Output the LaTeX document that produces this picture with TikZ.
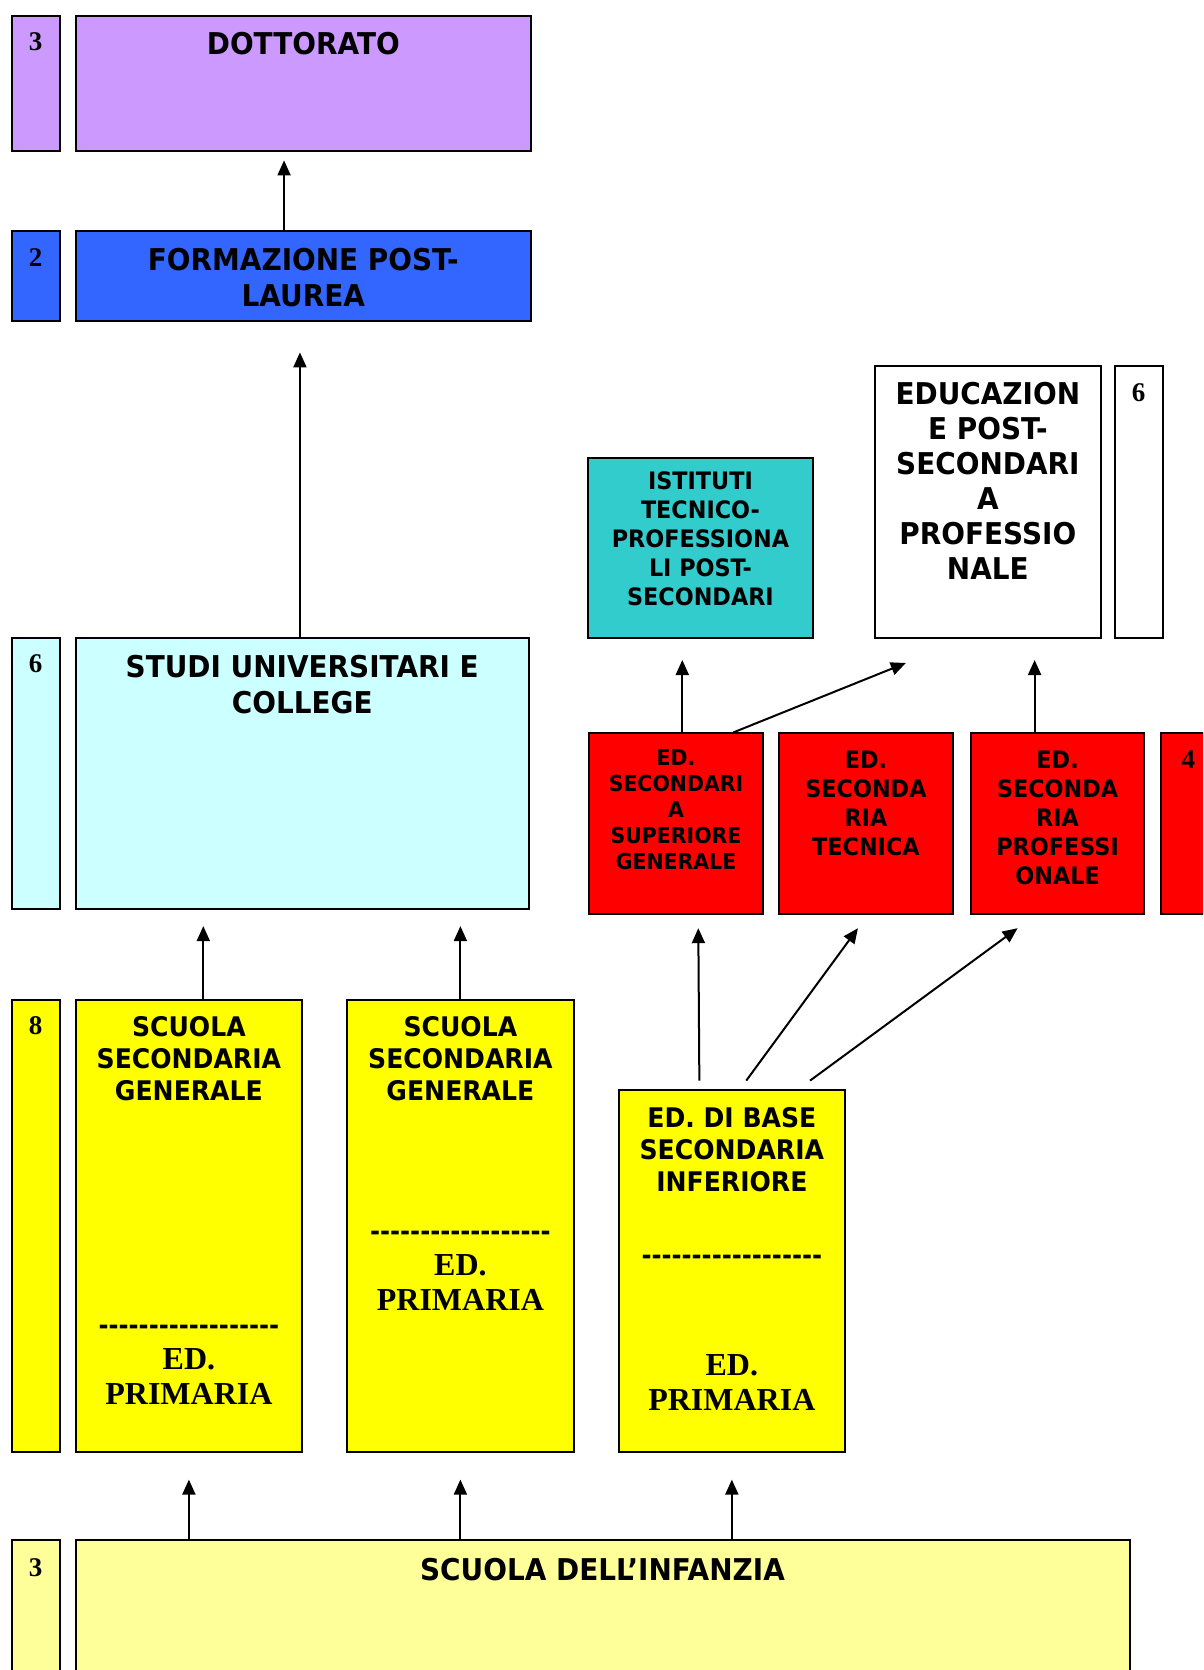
\documentclass[tikz,border=0pt]{standalone}
\usepackage{fontspec}
\usepackage{xcolor}
\usepackage{tikz}
\usetikzlibrary{arrows.meta, positioning, calc}
\newfontfamily\tahomafont{DejaVu Sans}[FakeStretch=0.93]
\newfontfamily\timesfont{Liberation Serif}
\definecolor{phdviolet}{RGB}{204, 153, 255}
\definecolor{postblue}{RGB}{51, 102, 255}
\definecolor{unicyan}{RGB}{204, 255, 255}
\definecolor{techteal}{RGB}{51, 204, 204}
\definecolor{secred}{RGB}{255, 0, 0}
\definecolor{schoolyellow}{RGB}{255, 255, 0}
\definecolor{kinderyellow}{RGB}{255, 255, 153}
\newcommand{\dashrow}{\foreach \k in {1,...,18}{\mbox{-}}}

\begin{document}
\begin{tikzpicture}[x=1pt, y=-1pt,
    box/.style={rectangle, draw=black, line width=2pt, anchor=north west, inner sep=0pt},
    numbox/.style={box, minimum width=48pt},
    num/.style={anchor=north, inner sep=0pt, font=\timesfont\bfseries\fontsize{27}{32}\selectfont},
    txt/.style={anchor=north, inner sep=0pt, align=center},
    bigtxt/.style={txt, font=\tahomafont\bfseries\fontsize{30}{36}\selectfont},
    edutxt/.style={txt, font=\tahomafont\bfseries\fontsize{30}{35}\selectfont},
    midtxt/.style={txt, font=\tahomafont\bfseries\fontsize{24}{29}\selectfont},
    smalltxt/.style={txt, font=\tahomafont\bfseries\fontsize{22}{26}\selectfont},
    schooltxt/.style={txt, font=\tahomafont\bfseries\fontsize{27}{32}\selectfont},
    primtxt/.style={txt, font=\timesfont\bfseries\fontsize{32}{35}\selectfont},
    dashtxt/.style={inner sep=0pt, font=\tahomafont\bfseries\fontsize{26}{32}\selectfont},
    line/.style={draw=black, line width=2pt, -{Triangle[length=15pt,width=13pt]}}]
    \clip (0,0) rectangle (1203,1670);

    % doctorate and post-graduate
    \node [numbox, fill=phdviolet, minimum height=135pt] (dottnum) at (10.6,14.9) {};
    \node [box, fill=phdviolet, minimum width=455.7pt, minimum height=135pt] (dott) at (74.5,14.9) {};
    \node [num] (dottnumtext) at ([yshift=-18pt]dottnum.north) {3};
    \node [bigtxt] (dotttext) at ([yshift=-17pt]dott.north) {DOTTORATO};

    \node [numbox, fill=postblue, minimum height=90.4pt] (formnum) at (10.6,230) {};
    \node [box, fill=postblue, minimum width=455.7pt, minimum height=90.4pt] (form) at (74.5,230) {};
    \node [num] (formnumtext) at ([yshift=-18pt]formnum.north) {2};
    \node [bigtxt] (formtext) at ([yshift=-18pt]form.north) {FORMAZIONE POST-\\LAUREA};

    % tertiary level
    \node [numbox, fill=unicyan, minimum height=271.5pt] (studinum) at (10.6,636.6) {};
    \node [box, fill=unicyan, minimum width=453.5pt, minimum height=271.5pt] (studi) at (74.5,636.6) {};
    \node [num] (studinumtext) at ([yshift=-18pt]studinum.north) {6};
    \node [bigtxt] (studitext) at ([yshift=-18pt]studi.north) {STUDI UNIVERSITARI E\\COLLEGE};

    \node [box, fill=techteal, minimum width=225.7pt, minimum height=179.9pt] (ist) at (586.6,456.7) {};
    \node [midtxt] (isttext) at ([yshift=-15pt]ist.north) {ISTITUTI\\TECNICO-\\PROFESSIONA\\LI POST-\\SECONDARI};

    \node [box, fill=white, minimum width=225.7pt, minimum height=271.4pt] (edu) at (874,365.2) {};
    \node [numbox, fill=white, minimum height=271.4pt] (edunum) at (1113.6,365.2) {};
    \node [edutxt] (edutext) at ([yshift=-17pt]edu.north) {EDUCAZION\\E POST-\\SECONDARI\\A\\PROFESSIO\\NALE};
    \node [num] (edunumtext) at ([yshift=-18pt]edunum.north) {6};

    % upper secondary
    \node [box, fill=secred, minimum width=174.6pt, minimum height=181pt] (sup) at (587.7,732.4) {};
    \node [box, fill=secred, minimum width=173.5pt, minimum height=181pt] (tec) at (778.2,732.4) {};
    \node [box, fill=secred, minimum width=173.6pt, minimum height=181pt] (pro) at (969.8,732.4) {};
    \node [numbox, fill=secred, minimum height=181pt] (rednum) at (1160.4,732.4) {};
    \node [smalltxt] (suptext) at ([yshift=-17pt]sup.north) {ED.\\SECONDARI\\A\\SUPERIORE\\GENERALE};
    \node [midtxt] (tectext) at ([yshift=-18pt]tec.north) {ED.\\SECONDA\\RIA\\TECNICA};
    \node [midtxt] (protext) at ([yshift=-18pt]pro.north) {ED.\\SECONDA\\RIA\\PROFESSI\\ONALE};
    \node [num] (rednumtext) at ([xshift=3pt,yshift=-18pt]rednum.north) {4};

    % lower secondary and primary
    \node [numbox, fill=schoolyellow, minimum height=452.4pt] (yelnum) at (10.6,998.6) {};
    \node [box, fill=schoolyellow, minimum width=226.8pt, minimum height=452.4pt] (ssga) at (74.5,998.6) {};
    \node [box, fill=schoolyellow, minimum width=226.8pt, minimum height=452.4pt] (ssgb) at (346,998.6) {};
    \node [box, fill=schoolyellow, minimum width=226.7pt, minimum height=362pt] (base) at (617.5,1089) {};
    \node [num] (yelnumtext) at ([yshift=-18pt]yelnum.north) {8};

    \node [schooltxt] (ssgatext) at ([yshift=-18pt]ssga.north) {SCUOLA\\SECONDARIA\\GENERALE};
    \node [dashtxt] (ssgadash) at ([yshift=-331pt]ssga.north) {\dashrow};
    \node [primtxt] (ssgaprim) at ([yshift=-349.4pt]ssga.north) {ED.\\PRIMARIA};

    \node [schooltxt] (ssgbtext) at ([yshift=-18pt]ssgb.north) {SCUOLA\\SECONDARIA\\GENERALE};
    \node [dashtxt] (ssgbdash) at ([yshift=-237.5pt]ssgb.north) {\dashrow};
    \node [primtxt] (ssgbprim) at ([yshift=-255.4pt]ssgb.north) {ED.\\PRIMARIA};

    \node [schooltxt] (basetext) at ([yshift=-18pt]base.north) {ED. DI BASE\\SECONDARIA\\INFERIORE};
    \node [dashtxt] (basedash) at ([yshift=-170.5pt]base.north) {\dashrow};
    \node [primtxt] (baseprim) at ([yshift=-265pt]base.north) {ED.\\PRIMARIA};

    % pre-primary
    \node [numbox, fill=kinderyellow, minimum height=200pt] (infnum) at (10.6,1539.4) {};
    \node [box, fill=kinderyellow, minimum width=1054pt, minimum height=200pt] (inf) at (74.5,1539.4) {};
    \node [num] (infnumtext) at ([yshift=-19pt]infnum.north) {3};
    \node [bigtxt] (inftext) at ([yshift=-19pt]inf.north) {SCUOLA DELL’INFANZIA};

    \path [line, shorten >=8.5pt] ([xshift=-19.3pt]form.north) -- ([xshift=-19.3pt]form.north |- dott.south);
    \path [line, shorten >=30pt] ([xshift=-2.3pt]studi.north) -- ([xshift=-2.3pt]studi.north |- form.south);
    \path [line, shorten >=16pt] ([xshift=14.4pt]ssga.north) -- ([xshift=14.4pt]ssga.north |- studi.south);
    \path [line, shorten >=16pt] (ssgb.north) -- (ssgb.north |- studi.south);
    \path [line, shorten >=21.4pt] ([xshift=6.3pt]sup.north) -- ([xshift=6.3pt]sup.north |- ist.south);
    \path [line] ([xshift=57.4pt]sup.north) -- ([xshift=-82pt,yshift=-24.4pt]edu.south);
    \path [line, shorten >=21.4pt] ([xshift=-23pt]pro.north) -- ([xshift=-23pt]pro.north |- edu.south);
    \path [line] ([xshift=-32.5pt,yshift=8.4pt]base.north) -- ([xshift=22.3pt,yshift=-12.8pt]sup.south);
    \path [line] ([xshift=14.4pt,yshift=8.4pt]base.north) -- ([xshift=-8pt,yshift=-12.8pt]tec.south);
    \path [line] ([xshift=78.2pt,yshift=8.4pt]base.north) -- ([xshift=-40pt,yshift=-12.8pt]pro.south);
    \path [line, shorten >=26.6pt] (inf.north -| ssga.south) -- (ssga.south);
    \path [line, shorten >=26.6pt] (inf.north -| ssgb.south) -- (ssgb.south);
    \path [line, shorten >=26.6pt] (inf.north -| base.south) -- (base.south);
\end{tikzpicture}
\end{document}
